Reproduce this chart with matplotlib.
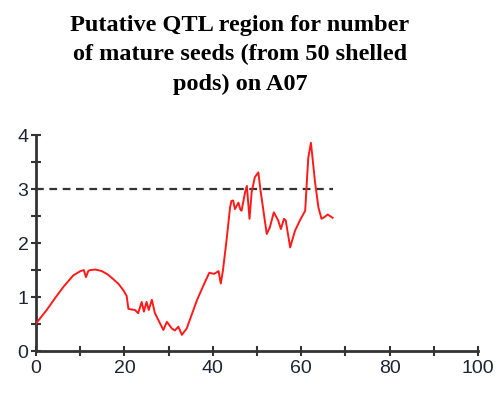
import numpy as np
from matplotlib import pyplot as plt

# LOD profile along A07 (position cM, LOD)
pos = [0, 2.4, 4.3, 6.2, 8.4, 10.0, 10.8, 11.3, 11.8, 12.2, 13.5, 14.9, 16.2, 17.5, 18.7,
       19.8, 20.5, 20.9, 22.4, 23.1, 23.9, 24.4, 25.0, 25.5, 26.2, 26.9, 28.8, 29.6,
       30.7, 31.4, 32.2, 33.0, 34.1, 36.4, 37.9, 39.2, 40.3, 41.3, 41.8, 42.3, 43.1,
       43.9, 44.2, 44.6, 45.0, 45.8, 46.2, 46.5, 47.3, 47.7, 48.3, 48.8, 49.5, 50.3,
       50.8, 51.4, 52.2, 52.9, 53.8, 54.8, 55.4, 56.1, 56.5, 57.5, 58.6, 59.7, 60.9,
       61.2, 61.6, 62.2, 62.6, 63.1, 63.9, 64.6, 65.2, 66.0, 67.1]
lod = [0.51, 0.76, 0.98, 1.19, 1.40, 1.48, 1.50, 1.37, 1.48, 1.50, 1.51, 1.48, 1.42, 1.33,
       1.24, 1.12, 1.02, 0.78, 0.76, 0.70, 0.91, 0.73, 0.91, 0.76, 0.95, 0.70, 0.39, 0.54,
       0.42, 0.38, 0.45, 0.30, 0.42, 0.94, 1.22, 1.45, 1.43, 1.48, 1.25, 1.50, 2.05,
       2.66, 2.78, 2.79, 2.63, 2.75, 2.63, 2.60, 2.94, 3.06, 2.45, 2.95, 3.22, 3.31,
       2.97, 2.63, 2.17, 2.29, 2.57, 2.42, 2.26, 2.45, 2.42, 1.92, 2.23, 2.42, 2.60,
       3.03, 3.58, 3.86, 3.55, 3.15, 2.66, 2.45, 2.48, 2.53, 2.47]
threshold = 3.0
title = 'Putative QTL region for number\nof mature seeds (from 50 shelled\npods) on A07'

axis_col = '#333333'
label_col = '#1f2233'

fig = plt.figure(figsize=(5.01, 3.96), dpi=100)
ax = fig.add_axes([0.072, 0.1136, 0.882, 0.545])

ax.plot([0, max(pos)], [threshold, threshold], color='#333333', lw=1.6, ls=(0, (3.5, 2.5)))
ax.plot(pos, lod, color='#ff1a1a', lw=1.4)

ax.set_xlim(0, 100)
ax.set_ylim(0, 4)
ax.set_xticks(np.arange(0, 101, 20))
ax.set_xticks(np.arange(10, 100, 20), minor=True)
ax.set_yticks(np.arange(0, 5, 1))
ax.set_yticks(np.arange(0.5, 4, 1), minor=True)

for s in ['top', 'right']:
    ax.spines[s].set_visible(False)
for s in ['left', 'bottom']:
    ax.spines[s].set_color(axis_col)
    ax.spines[s].set_linewidth(2)
    ax.spines[s].set_zorder(0)

ax.tick_params(which='both', direction='inout', length=7, width=1.5, color=axis_col)
ax.tick_params(axis='both', labelsize=14, labelcolor=label_col)
ax.tick_params(axis='x', pad=3)
ax.tick_params(axis='y', pad=2)
for lab in ax.get_xticklabels() + ax.get_yticklabels():
    lab.set_family('Liberation Sans')

fig.text(0.479, 0.962, title, ha='center', va='top', family='Liberation Serif',
         fontweight='bold', fontsize=17.5, linespacing=1.5)

fig.savefig('out.png', dpi=100)
